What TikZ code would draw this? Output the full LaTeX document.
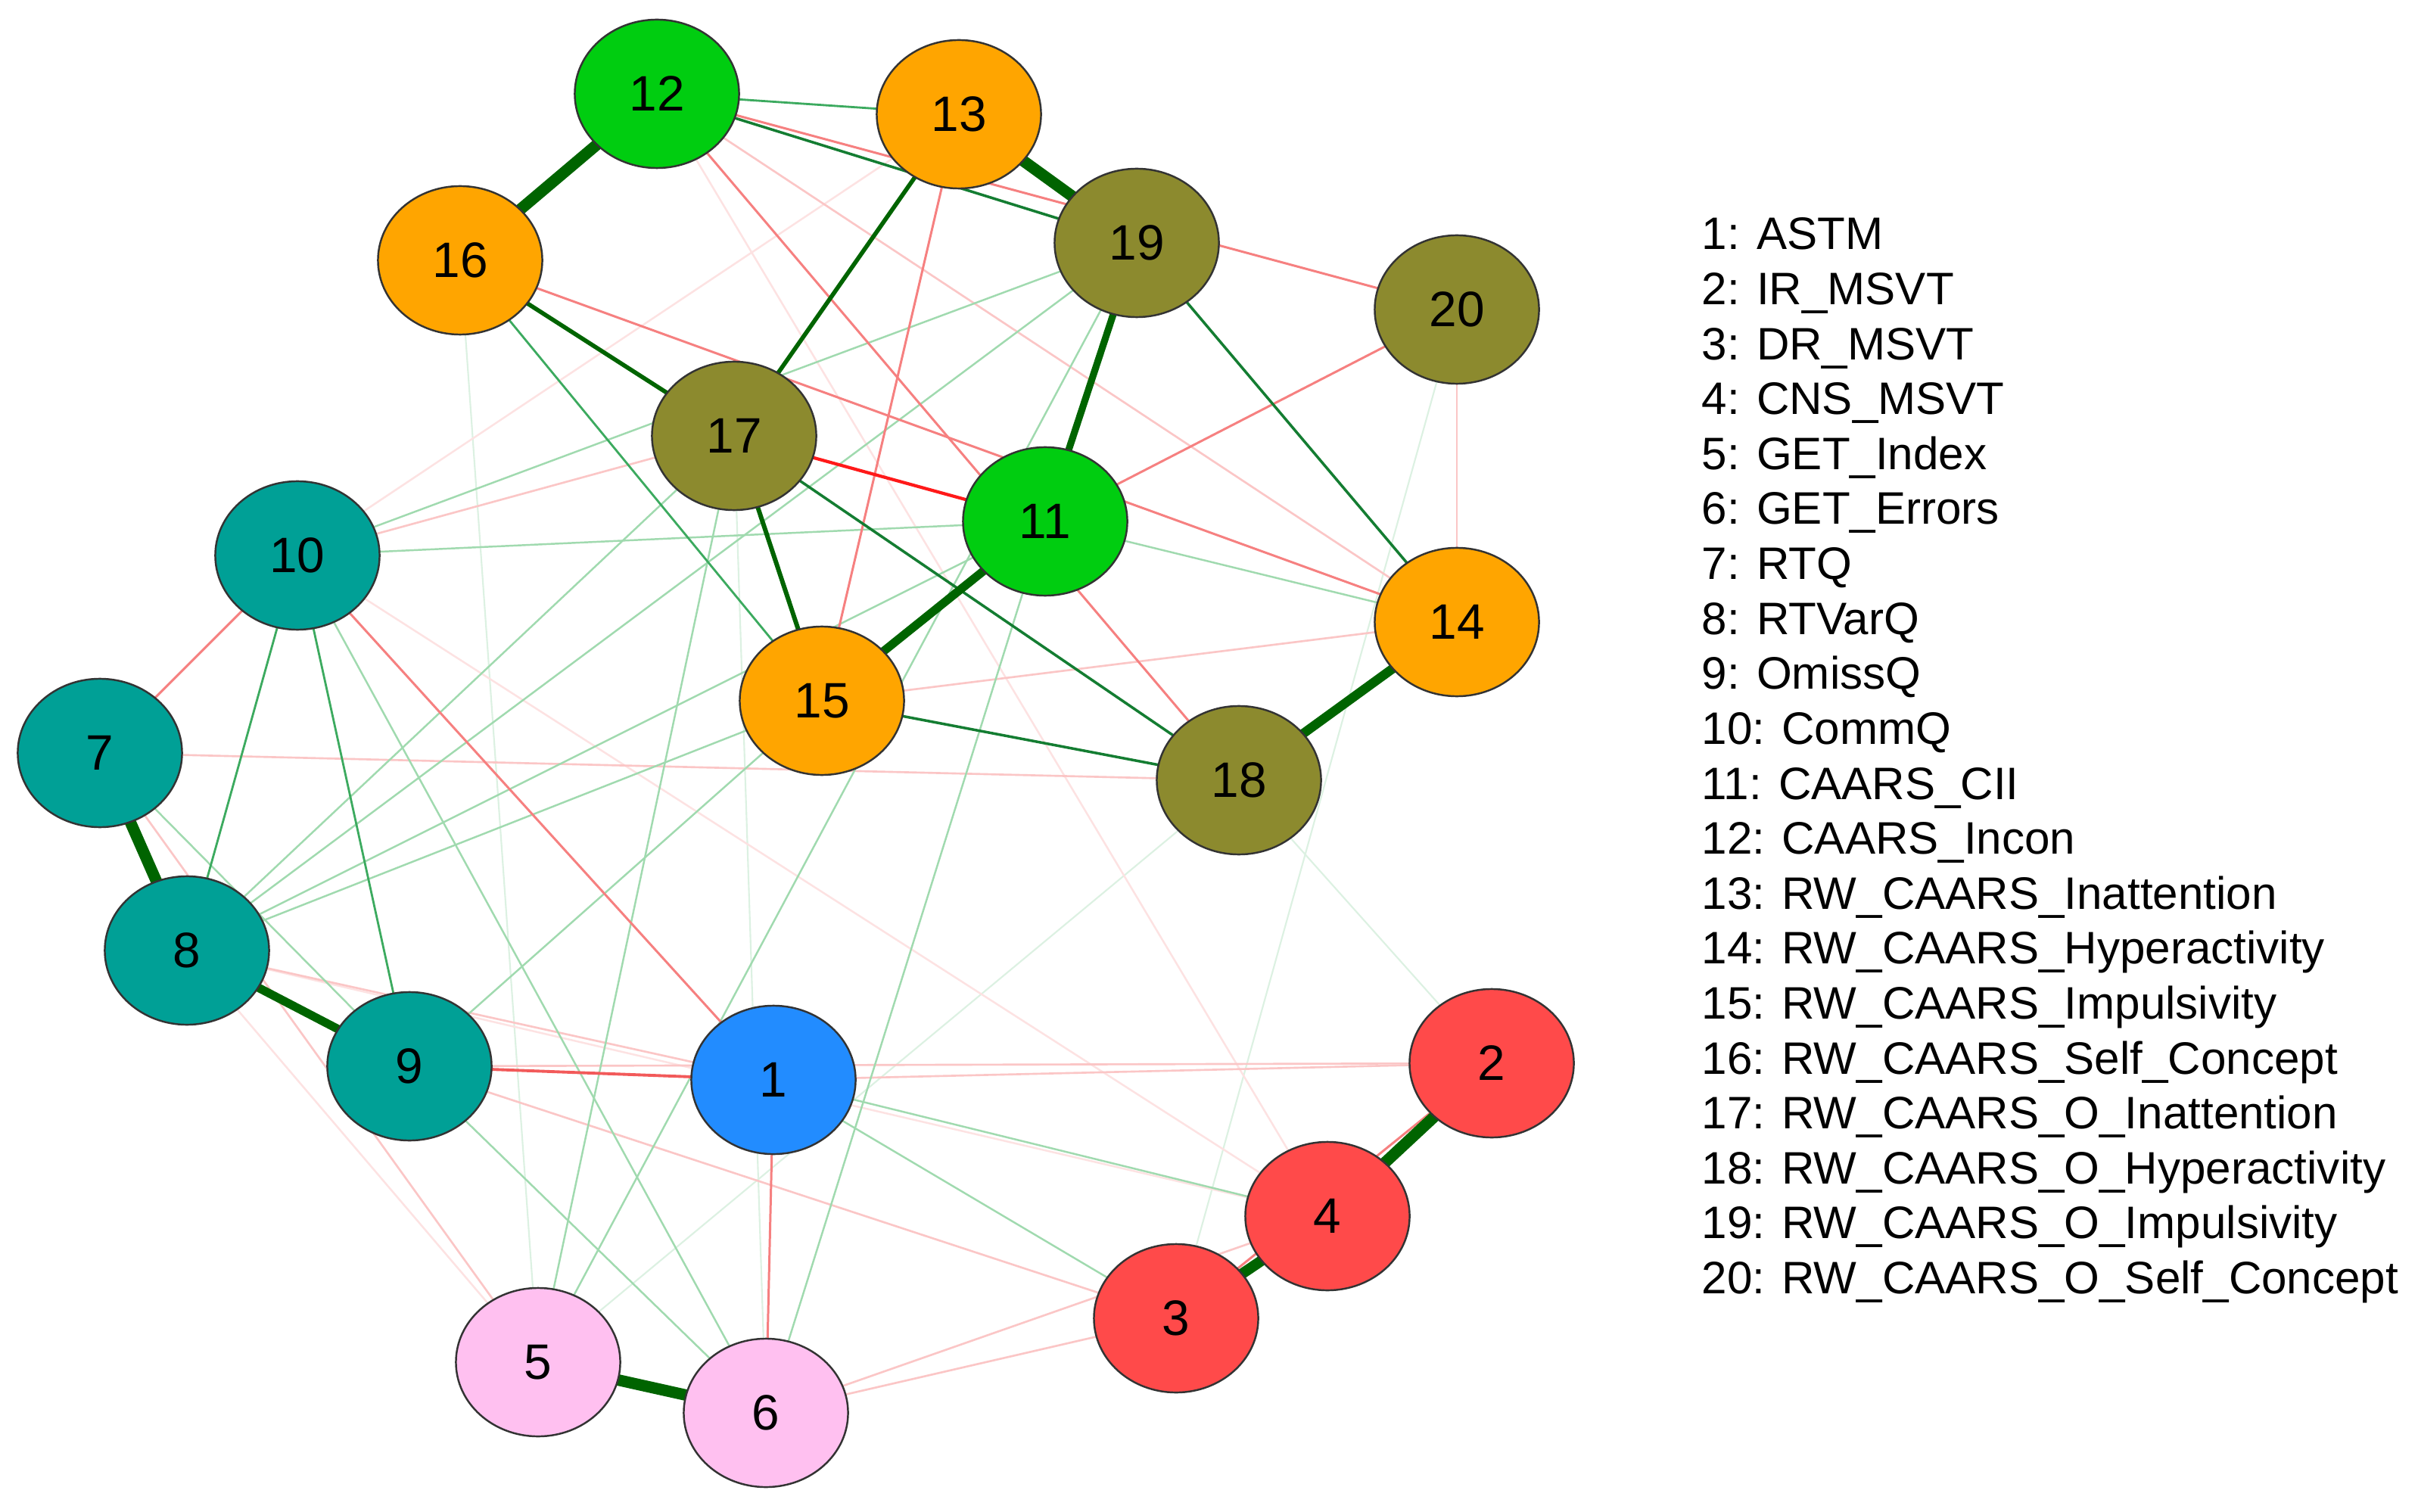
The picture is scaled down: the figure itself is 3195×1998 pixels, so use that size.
\documentclass[tikz,border=0pt]{standalone}
\usepackage{fontspec}
\setmainfont{Liberation Sans}
\usetikzlibrary{shapes.geometric}
\definecolor{cBlue}{RGB}{34,140,255}
\definecolor{cRed}{RGB}{255,74,74}
\definecolor{cPink}{RGB}{255,192,240}
\definecolor{cTeal}{RGB}{0,160,150}
\definecolor{cGreen}{RGB}{0,205,16}
\definecolor{cOrange}{RGB}{255,165,0}
\definecolor{cOlive}{RGB}{140,138,46}
\definecolor{eDG}{RGB}{0,100,0}
\definecolor{eG3}{RGB}{20,125,50}
\definecolor{eG2}{RGB}{60,170,95}
\definecolor{eG1}{RGB}{160,218,175}
\definecolor{eG0}{RGB}{220,241,226}
\definecolor{eR4}{RGB}{255,25,25}
\definecolor{eR3}{RGB}{242,90,90}
\definecolor{eR2}{RGB}{246,128,128}
\definecolor{eR1}{RGB}{251,198,198}
\definecolor{eR0}{RGB}{253,226,226}
\begin{document}
\begin{tikzpicture}[x=0.01cm,y=-0.01cm,
  vnode/.style={ellipse,draw=black!80,line width=0.7pt,minimum width=2.17cm,minimum height=1.96cm,inner sep=0pt,font=\fontsize{18.7}{22}\selectfont},
  leg/.style={anchor=base west,inner sep=0pt,font=\fontsize{17.1}{20}\selectfont},
  g0/.style={draw=eG0,line width=0.6pt},
  g1/.style={draw=eG1,line width=0.7pt},
  g2/.style={draw=eG2,line width=0.8pt},
  g3/.style={draw=eG3,line width=1.0pt},
  gS/.style={draw=eDG,line width=#1},
  r0/.style={draw=eR0,line width=0.7pt},
  r1/.style={draw=eR1,line width=0.75pt},
  r2/.style={draw=eR2,line width=0.85pt},
  r3/.style={draw=eR3,line width=1.1pt},
  r4/.style={draw=eR4,line width=1.2pt}]
\fill[white] (0,0) rectangle (3195,1998);
\useasboundingbox (0,0) rectangle (3195,1998);
% node positions
\coordinate (p1) at (1022,1427);
\coordinate (p2) at (1971,1405);
\coordinate (p3) at (1554,1742);
\coordinate (p4) at (1754,1607);
\coordinate (p5) at (711,1800);
\coordinate (p6) at (1012,1867);
\coordinate (p7) at (132,995);
\coordinate (p8) at (247,1256);
\coordinate (p9) at (541,1409);
\coordinate (p10) at (393,734);
\coordinate (p11) at (1381,689);
\coordinate (p12) at (868,124);
\coordinate (p13) at (1267,151);
\coordinate (p14) at (1925,822);
\coordinate (p15) at (1086,926);
\coordinate (p16) at (608,344);
\coordinate (p17) at (970,576);
\coordinate (p18) at (1637,1031);
\coordinate (p19) at (1502,321);
\coordinate (p20) at (1925,409);
% very faint edges
\foreach \a/\b in {20/3,2/18,18/5,6/17,16/5}{\draw[g0] (p\a) -- (p\b);}
\foreach \a/\b in {10/4,12/4,10/13,8/4,8/5}{\draw[r0] (p\a) -- (p\b);}
% faint pink
\foreach \a/\b in {12/14,1/2,14/15,20/14,6/3,6/4,7/18,9/2,9/3,8/1,10/17,7/5}{\draw[r1] (p\a) -- (p\b);}
% light green
\foreach \a/\b in {10/11,10/19,10/6,7/9,9/6,5/17,5/19,8/17,8/11,8/15,9/15,19/8,11/14,11/6,1/4,1/3}{\draw[g1] (p\a) -- (p\b);}
% medium red
\foreach \a/\b in {16/14,11/20,10/1,10/7,12/18,12/20,13/15,1/6,2/3}{\draw[r2] (p\a) -- (p\b);}
\draw[r3] (p9) -- (p1);
% medium green
\foreach \a/\b in {12/13,10/8,10/9,16/15}{\draw[g2] (p\a) -- (p\b);}
\foreach \a/\b in {12/19,15/18,17/18,19/14}{\draw[g3] (p\a) -- (p\b);}
\draw[r4] (p17) -- (p11);
% strong positive edges
\draw[gS=1.6pt] (p16) -- (p17);
\draw[gS=1.6pt] (p13) -- (p17);
\draw[gS=1.7pt] (p15) -- (p17);
\draw[gS=2.6pt] (p11) -- (p19);
\draw[gS=3.2pt] (p8) -- (p9);
\draw[gS=3.2pt] (p11) -- (p15);
\draw[gS=3.5pt] (p14) -- (p18);
\draw[gS=4.0pt] (p3) -- (p4);
\draw[gS=4.3pt] (p2) -- (p4);
\draw[gS=4.3pt] (p5) -- (p6);
\draw[gS=4.3pt] (p7) -- (p8);
\draw[gS=4.3pt] (p13) -- (p19);
\draw[gS=4.3pt] (p12) -- (p16);
% nodes
\node[vnode,fill=cBlue] (n1) at (p1) {1};
\node[vnode,fill=cRed] (n2) at (p2) {2};
\node[vnode,fill=cRed] (n3) at (p3) {3};
\node[vnode,fill=cRed] (n4) at (p4) {4};
\node[vnode,fill=cPink] (n5) at (p5) {5};
\node[vnode,fill=cPink] (n6) at (p6) {6};
\node[vnode,fill=cTeal] (n7) at (p7) {7};
\node[vnode,fill=cTeal] (n8) at (p8) {8};
\node[vnode,fill=cTeal] (n9) at (p9) {9};
\node[vnode,fill=cTeal] (n10) at (p10) {10};
\node[vnode,fill=cGreen] (n11) at (p11) {11};
\node[vnode,fill=cGreen] (n12) at (p12) {12};
\node[vnode,fill=cOrange] (n13) at (p13) {13};
\node[vnode,fill=cOrange] (n14) at (p14) {14};
\node[vnode,fill=cOrange] (n15) at (p15) {15};
\node[vnode,fill=cOrange] (n16) at (p16) {16};
\node[vnode,fill=cOlive] (n17) at (p17) {17};
\node[vnode,fill=cOlive] (n18) at (p18) {18};
\node[vnode,fill=cOlive] (n19) at (p19) {19};
\node[vnode,fill=cOlive] (n20) at (p20) {20};
% legend
\foreach \i/\t in {1/ASTM,2/IR\_MSVT,3/DR\_MSVT,4/CNS\_MSVT,5/GET\_Index,6/GET\_Errors,7/RTQ,8/RTVarQ,9/OmissQ,10/CommQ,11/CAARS\_CII,12/CAARS\_Incon,13/RW\_CAARS\_Inattention,14/RW\_CAARS\_Hyperactivity,15/RW\_CAARS\_Impulsivity,16/RW\_CAARS\_Self\_Concept,17/RW\_CAARS\_O\_Inattention,18/RW\_CAARS\_O\_Hyperactivity,19/RW\_CAARS\_O\_Impulsivity,20/RW\_CAARS\_O\_Self\_Concept}{
  \node[leg] (l\i) at (2248,{330+(\i-1)*72.6}) {\i: \t};
}
\end{tikzpicture}
\end{document}
